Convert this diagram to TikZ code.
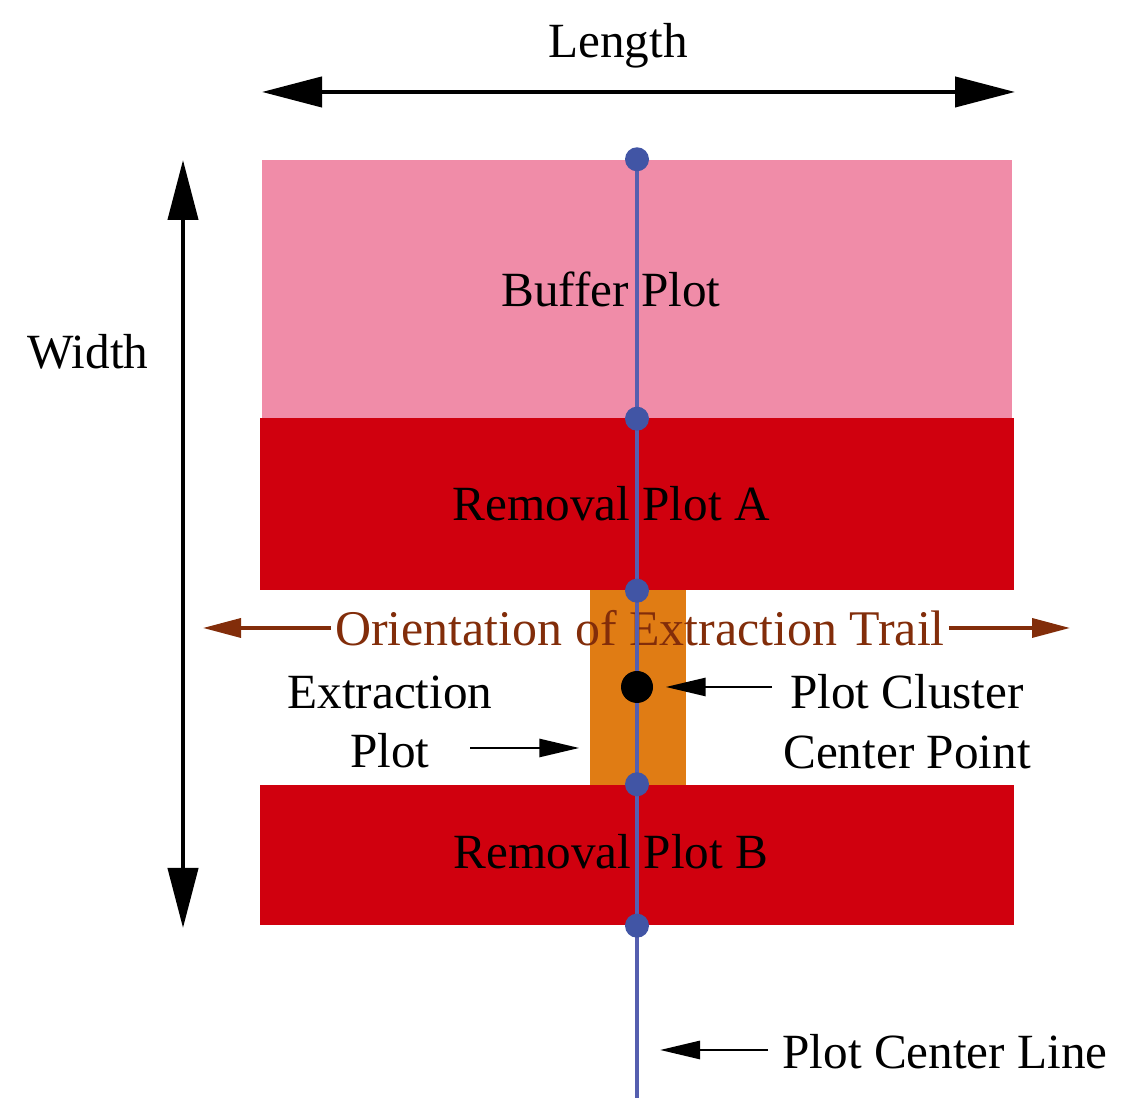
\documentclass[tikz,border=0pt]{standalone}
\usepackage{fontspec}
\setmainfont{Liberation Serif}
\usepackage{xcolor}
\usetikzlibrary{arrows.meta, positioning, calc}

\definecolor{bufpink}{RGB}{240,140,168}
\definecolor{remred}{RGB}{208,0,14}
\definecolor{extorange}{RGB}{224,124,20}
\definecolor{trailbrown}{RGB}{130,45,10}
\definecolor{lineblue}{RGB}{85,95,175}
\definecolor{dotblue}{RGB}{65,85,165}

\begin{document}
\begin{tikzpicture}[
    every node/.style={font=\fontsize{14}{17}\selectfont},
    plotbox/.style={draw=none, inner sep=0pt},
    dimarrow/.style={{Triangle[length=6mm, width=3mm]}-{Triangle[length=6mm, width=3mm]}, line width=1.2pt},
    trailarrow/.style={-{Triangle[length=3.8mm, width=1.9mm]}, line width=1pt, draw=trailbrown},
    pointer/.style={-{Triangle[length=4mm, width=1.8mm]}, line width=0.8pt},
    bluedot/.style={circle, fill=dotblue, inner sep=0pt, minimum size=0.24cm}
]
    \useasboundingbox (0,0) rectangle (11.46,10.98);

    % Plots
    \node[plotbox, fill=bufpink, minimum width=7.50cm, minimum height=2.58cm] (buffer) at (6.37, 8.09) {};
    \node[plotbox, fill=remred, minimum width=7.54cm, minimum height=1.72cm] (remA) at (6.37, 5.94) {};
    \node[plotbox, fill=extorange, minimum width=0.96cm, minimum height=1.95cm] (extract) at (6.38, 4.105) {};
    \node[plotbox, fill=remred, minimum width=7.54cm, minimum height=1.40cm] (remB) at (6.37, 2.43) {};

    % Plot labels
    \node at ([xshift=-0.26cm]buffer.center) {Buffer Plot};
    \node at ([xshift=-0.26cm]remA.center) {Removal Plot A};
    \node at ([xshift=-0.26cm, yshift=0.03cm]remB.center) {Removal Plot B};

    % Length and width
    \node (length) at (6.18, 10.52) {Length};
    \coordinate (lenL) at (2.62, 10.06);
    \coordinate (lenR) at (10.15, 10.06);
    \draw[dimarrow] (lenL) -- (lenR);

    \node (width) at (0.88, 7.46) {Width};
    \coordinate (widT) at (1.83, 9.38);
    \coordinate (widB) at (1.83, 1.70);
    \draw[dimarrow] (widT) -- (widB);

    % Orientation of the trail
    \node[text=trailbrown, inner sep=1pt, font=\fontsize{14.2}{17}\selectfont] (trail) at (6.40, 4.70) {Orientation of Extraction Trail};
    \coordinate (trailL) at (2.03, 4.70);
    \coordinate (trailR) at (10.70, 4.70);
    \draw[trailarrow] (trail.west) -- (trailL);
    \draw[trailarrow] (trail.east) -- (trailR);

    % Center line and dots
    \coordinate (bottom) at (6.37, 0);
    \draw[lineblue, line width=1.2pt] (buffer.north) -- (bottom);
    \node[bluedot] at (buffer.north) {};
    \node[bluedot] at (buffer.south) {};
    \node[bluedot] at (remA.south) {};
    \node[bluedot] at (remB.north) {};
    \node[bluedot] at (remB.south) {};
    \node[circle, fill=black, inner sep=0pt, minimum size=0.32cm] (cdot) at (6.37, 4.11) {};

    % Extraction plot
    \node[align=center] (extlabel) at (3.90, 3.76) {Extraction\\Plot};
    \coordinate (exttail) at (4.70, 3.50);
    \draw[pointer] (exttail) -- ([xshift=-0.1cm]extract.west |- exttail);

    % Cluster center
    \node[align=center] (cluster) at (9.07, 3.76) {Plot Cluster\\Center Point};
    \coordinate (clustail) at (7.72, 4.11);
    \draw[pointer, shorten >=0.12cm] (clustail) -- (cdot);

    % Center line label
    \node[anchor=west] (cline) at (7.70, 0.46) {Plot Center Line};
    \coordinate (clinetail) at (7.68, 0.48);
    \coordinate (clinetip) at (6.60, 0.48);
    \draw[pointer] (clinetail) -- (clinetip);
\end{tikzpicture}
\end{document}
